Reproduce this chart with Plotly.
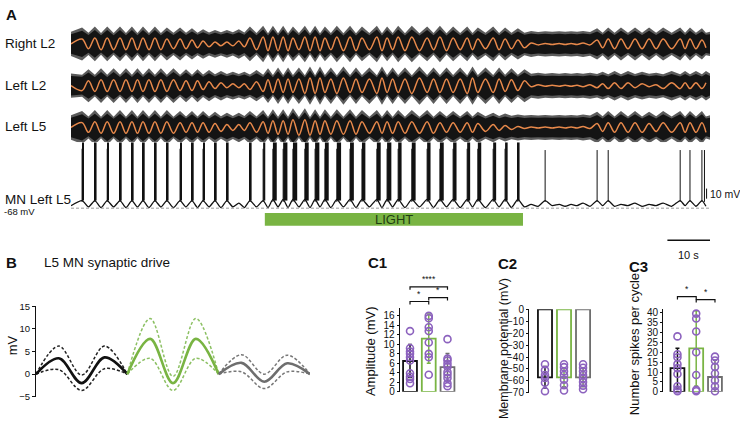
import plotly.graph_objects as go

W, H = 740, 428
FONT = "Liberation Sans, Arial, sans-serif"
ORANGE = "#E8894B"
GREEN = "#79B443"
GREY = "#6E6E6E"
PURPLE = "#8C62BE"

# ---- panel A: rhythm cycles (s) ----
cycle_t = [2.6, 5.6, 8.5, 11.5, 14.3, 16.9, 19.7, 22.5, 25.6, 28.4, 31.0, 33.8, 36.6, 39.4, 42.0, 45.1,
           47.4, 49.8, 52.1, 54.9, 57.3, 59.6, 62.4, 65.5, 68.3, 71.8, 74.2, 76.8, 80.0, 83.6, 86.6,
           89.7, 93.0, 95.5, 99.1, 101.9, 104.9,
           108.0, 111.3, 114.6, 117.4, 120.2, 123.5, 126.1, 129.1, 132.4, 135.7, 139.0, 143.0, 145.3, 148.1]

# amplitude of the filtered (orange) envelope per cycle
rl2_amp = [5, 6, 6, 6, 6, 6, 6, 5, 5, 4, 3, 2, 2, 3, 6, 7,
           7, 7, 6, 7, 7, 6, 7, 7, 6, 7, 6, 7, 7, 6, 7, 6, 6, 5, 6, 5, 4,
           1, 0.5, 0.5, 0.5, 1, 4, 5, 5, 5, 5, 5, 5, 5, 4]
ll2_amp = [5, 6, 6, 6, 6, 6, 6, 6, 5, 5, 4, 3, 2, 2, 4, 6,
           7, 7, 7, 8, 8, 7, 8, 7, 7, 8, 7, 7, 8, 7, 7, 7, 8, 7, 7, 6, 5,
           1, 0.5, 0.5, 0.5, 1, 2, 3, 3, 2, 1, 3, 3, 3, 3]
ll5_amp = [5, 6, 6, 6, 6, 6, 6, 6, 5, 5, 5, 4, 3, 3, 5, 6,
           7, 7, 8, 8, 7, 7, 7, 7, 6, 6, 6, 6, 6, 6, 5, 5, 5, 4, 3, 2, 1,
           0.5, 0.5, 0.5, 0.5, 1, 4, 5, 5, 5, 4, 5, 5, 5, 5]

# MN membrane potential (mV) at burst and between bursts, per cycle
mn_hump = [-62, -62, -62, -62, -62, -62, -62, -62, -62, -62, -62, -62, -62, -64, -62, -62,
           -61, -61, -61, -61, -61, -61, -61, -61, -61, -61, -61, -61, -61, -61, -61,
           -61, -61, -61, -61, -61, -61,
           -65, -62, -65, -65, -64, -62, -62, -65, -64, -65, -64, -62, -62, -62]
mn_trough = [-67, -67.5, -67, -67.5, -67, -67.5, -67, -67.5, -67, -67.5, -67, -67.5, -67, -67.5, -67, -67.5,
             -67, -67.5, -67, -67.5, -67, -67.5, -67, -67.5, -67, -67.5, -67, -67.5, -67, -67.5, -67,
             -67.5, -67, -67.5, -67, -67.5, -67,
             -66.5, -66, -66.5, -66, -66.5, -66, -66.5, -66, -66.5, -66, -66.5, -66, -66.5, -66.5]

# MN spikes / bursts
burst_t = [2.6, 5.6, 8.5, 11.5, 14.3, 16.9, 19.7, 22.5, 25.6, 28.4, 31.0, 33.8, 36.6, 42.0, 45.1,
           47.4, 49.8, 52.1, 54.9, 57.3, 59.6, 62.4, 65.5, 68.3, 71.8, 74.2, 76.8, 80.0, 83.6, 86.6,
           89.7, 93.0, 95.5, 99.1, 101.9, 104.9,
           111.3, 123.5, 126.1, 143.0, 145.3, 148.1, 148.7]
burst_dur = [0.4, 0.4, 0.4, 0.4, 0.4, 0.4, 0.4, 0.4, 0.4, 0.4, 0.4, 0.4, 0.4, 0.4, 0.5,
             0.9, 1.0, 1.0, 0.9, 1.0, 0.9, 1.0, 0.9, 0.8, 0.9, 1.0, 0.8, 0.9, 0.8, 0.9,
             0.8, 0.7, 0.8, 0.7, 0.6, 0.4,
             0, 0, 0, 0, 0, 0, 0]
burst_peak = [-21, -21, -21, -21, -21, -21, -21, -21, -21, -21, -21, -21, -21, -21, -21,
              -21, -21, -21, -21, -21, -21, -21, -21, -21, -21, -21, -21, -21, -21, -21,
              -21, -21, -21, -21, -21, -21,
              -22, -22, -22, -22, -22, -22, -22]
light_on, light_off = 45.5, 106.1

# ---- panel B: synaptic drive (mV) over one normalised cycle ----
phase = [0, 0.25, 0.5, 0.75, 1.0]
drive_mean = {"ctrl": [0, 3.5, -2.0, 3.7, 0], "light": [0, 7.8, -2.0, 7.8, 0], "post": [0, 2.5, -1.7, 2.4, 0]}
drive_up = {"ctrl": [0, 6.2, -0.2, 6.2, 0], "light": [0, 12.3, -0.5, 12.3, 0], "post": [0, 4.3, 0.0, 4.2, 0]}
drive_lo = {"ctrl": [0, 1.0, -3.6, 1.2, 0], "light": [0, 3.5, -3.6, 3.5, 0], "post": [0, 0.5, -3.2, 0.5, 0]}

# ---- panels C1-C3 ----
c1_mean, c1_sd = [6.5, 11.2, 5.2], [3.5, 5.2, 2.9]
c1_pts = [[12.8, 9.2, 8.5, 8.0, 7.3, 6.6, 3.9, 3.2, 2.7, 1.8],
          [16.0, 15.5, 13.6, 12.8, 10.4, 8.0, 7.3, 3.6],
          [11.1, 7.0, 6.6, 5.9, 5.3, 4.2, 3.6, 2.9, 1.8, 1.2]]
c2_mean, c2_sd = [-57, -57, -57], [9, 8, 8]
c2_pts = [[-46, -51, -55, -57.5, -61.5, -68.6],
          [-46, -48.5, -52, -55, -59, -63.6, -68],
          [-46, -49, -52, -55, -58, -61, -64, -67]]
c3_mean, c3_sd = [12, 22, 7.5], [10, 19, 8.5]
c3_pts = [[28, 19, 17.5, 14, 12, 9, 2.8, 1.2, 0.3],
          [42.8, 39.5, 37, 30.5, 20, 8.5, 1.0, 0.3],
          [17.8, 15.8, 12.6, 9.3, 5.7, 2.8, 0.3]]
bar_colors = ["#111111", GREEN, GREY]


def px(x):
    return x / W


def py(y):
    return 1 - y / H


def mids():
    out = []
    for i, t in enumerate(cycle_t):
        nxt = cycle_t[i + 1] if i + 1 < len(cycle_t) else 150.0
        out.append((t + nxt) / 2)
    return out


MIDS = mids()


def osc(amps, sign):
    xs, ys = [0.0], [0.0]
    for t, m, a in zip(cycle_t, MIDS, amps):
        xs += [t, m]
        ys += [sign * a, -sign * a]
    return xs, ys


def band(amps, sign, base, gain):
    xs, up = [0.0], [base]
    for t, m, a in zip(cycle_t, MIDS, amps):
        hi, lo = base + gain * a, base - 0.25 * gain * a
        xs += [t, m]
        up += [hi, lo] if sign > 0 else [lo, hi]
    xs += [150.0]
    up += [base]
    return xs + xs[::-1], up + [-u for u in up[::-1]]


fig = go.Figure()

nerves = [("y", rl2_amp, 1), ("y2", ll2_amp, -1), ("y3", ll5_amp, 1)]
for ax, amps, sign in nerves:
    for base, gain, col in [(12.5, 0.9, "#5c5c5c"), (10.0, 0.7, "#141414")]:
        bx, by = band(amps, sign, base, gain)
        fig.add_trace(go.Scatter(x=bx, y=by, xaxis="x", yaxis=ax, mode="lines", fill="toself",
                                 fillcolor=col, line=dict(width=0),
                                 hoverinfo="skip", showlegend=False))
    ox, oy = osc(amps, sign)
    fig.add_trace(go.Scatter(x=ox, y=oy, xaxis="x", yaxis=ax, mode="lines",
                             line=dict(color=ORANGE, width=1.5, shape="spline"), showlegend=False))

# MN membrane trace
mx, my = [0.0], [-66.0]
for t, m, hmp, tr in zip(cycle_t, MIDS, mn_hump, mn_trough):
    mx += [t, m]
    my += [hmp, tr]
fig.add_trace(go.Scatter(x=mx, y=my, xaxis="x", yaxis="y4", mode="lines",
                         line=dict(color="#111111", width=1.3, shape="spline", smoothing=0.6),
                         showlegend=False))
# burst bodies
body = [i for i, d in enumerate(burst_dur) if d > 0]
fig.add_trace(go.Bar(x=[burst_t[i] for i in body], y=[burst_peak[i] + 5 - mn_hump[0] for i in body],
                     base=[mn_hump[0]] * len(body), width=[burst_dur[i] for i in body], offset=0,
                     xaxis="x", yaxis="y4", marker=dict(color="#111111", line=dict(width=0)),
                     showlegend=False))
# first spike of each burst
sx, sy = [], []
for t, p in zip(burst_t, burst_peak):
    sx += [t, t, None]
    sy += [-63, p, None]
fig.add_trace(go.Scatter(x=sx, y=sy, xaxis="x", yaxis="y4", mode="lines",
                         line=dict(color="#111111", width=1), showlegend=False))
# 10 mV scale bar
fig.add_trace(go.Scatter(x=[149.2, 149.2], y=[-60.5, -52.5], xaxis="x", yaxis="y4", mode="lines",
                         line=dict(color="#111111", width=1), showlegend=False))

# ---- B ----
for k, (key, col, dcol) in enumerate([("ctrl", "#111111", "#222222"), ("light", GREEN, "#8CC063"),
                                      ("post", GREY, "#777777")]):
    xs = [k + p for p in phase]
    for arr in (drive_up[key], drive_lo[key]):
        fig.add_trace(go.Scatter(x=xs, y=arr, xaxis="x5", yaxis="y5", mode="lines",
                                 line=dict(color=dcol, width=1.5, dash="3px,2px", shape="spline"),
                                 showlegend=False))
    fig.add_trace(go.Scatter(x=xs, y=drive_mean[key], xaxis="x5", yaxis="y5", mode="lines",
                             line=dict(color=col, width=2.6, shape="spline"), showlegend=False))

# ---- C panels ----
for xa, ya, means, sds, pts in [("x6", "y6", c1_mean, c1_sd, c1_pts),
                                ("x7", "y7", c2_mean, c2_sd, c2_pts),
                                ("x8", "y8", c3_mean, c3_sd, c3_pts)]:
    for i in range(3):
        fig.add_trace(go.Bar(x=[i], y=[means[i]], width=0.74, xaxis=xa, yaxis=ya,
                             marker=dict(color="white", line=dict(color=bar_colors[i], width=1.8)),
                             error_y=dict(type="data", array=[sds[i]], color=bar_colors[i],
                                          thickness=1.5, width=2),
                             showlegend=False))
    for i in range(3):
        fig.add_trace(go.Scatter(x=[i] * len(pts[i]), y=pts[i], xaxis=xa, yaxis=ya, mode="markers",
                                 marker=dict(symbol="circle-open", size=7, color=PURPLE,
                                             line=dict(width=1.6, color=PURPLE)),
                                 cliponaxis=False, showlegend=False))

hidden = dict(visible=False)
ax_font = dict(family=FONT, size=10, color="#111111")
c_axis = dict(showline=True, linecolor="#111111", linewidth=1, ticks="outside", ticklen=2,
              tickcolor="#111111", showgrid=False, zeroline=False, tickfont=ax_font)
layout_axes = dict(
    xaxis=dict(domain=[px(71), px(710)], range=[0, 150], anchor="y", **hidden),
    yaxis=dict(domain=[py(60), py(18)], range=[-21, 21], anchor="x", **hidden),
    yaxis2=dict(domain=[py(103), py(61)], range=[-21, 21], anchor="x", **hidden),
    yaxis3=dict(domain=[py(146), py(104)], range=[-21, 21], anchor="x", **hidden),
    yaxis4=dict(domain=[py(216), py(140)], range=[-74.15, -15.7], anchor="x", **hidden),
    xaxis5=dict(domain=[px(36), px(310)], range=[0, 3], anchor="y5", **hidden),
    yaxis5=dict(domain=[py(402), py(309)], range=[-5, 15], anchor="x5", showline=True,
                linecolor="#111111", linewidth=1, ticks="outside", ticklen=3, tickcolor="#111111",
                tickvals=[-5, 0, 5, 10, 15], showgrid=False, zeroline=False,
                tickfont=dict(family=FONT, size=9.5, color="#111111")),
    xaxis6=dict(domain=[px(399.7), px(457.8)], range=[-0.55, 2.55], anchor="y6", **hidden),
    yaxis6=dict(domain=[py(397), py(311)], range=[0, 17.6], anchor="x6",
                tickvals=list(range(0, 17, 2)), **c_axis),
    xaxis7=dict(domain=[px(529), px(593.5)], range=[-0.84, 2.55], anchor="y7", **hidden),
    yaxis7=dict(domain=[py(398), py(312)], range=[-70, 0], anchor="x7",
                tickvals=list(range(-70, 1, 10)), **c_axis),
    xaxis8=dict(domain=[px(663), px(725.3)], range=[-0.77, 2.55], anchor="y8", **hidden),
    yaxis8=dict(domain=[py(397), py(312)], range=[0, 41.7], anchor="x8",
                tickvals=list(range(0, 41, 5)), **c_axis),
)

shapes = [
    dict(type="line", xref="x", yref="y4", x0=0, x1=150, y0=-68, y1=-68,
         line=dict(color="#999999", width=1, dash="3px,2px")),
    dict(type="rect", xref="x", yref="paper", x0=light_on, x1=light_off, y0=py(226), y1=py(213),
         fillcolor=GREEN, line=dict(width=0)),
    dict(type="line", xref="x", yref="paper", x0=140, x1=150, y0=py(241), y1=py(241),
         line=dict(color="#111111", width=1.3)),
]


def bracket(xa, a, b, ypx, label):
    shapes.append(dict(type="path", xref=xa, yref="paper",
                       path=f"M {a},{py(ypx + 3)} L {a},{py(ypx)} L {b},{py(ypx)} L {b},{py(ypx + 3)}",
                       line=dict(color="#111111", width=1.2)))
    return dict(x=(a + b) / 2, y=py(ypx - 1), xref=xa, yref="paper", text=label, showarrow=False,
                xanchor="center", yanchor="bottom", font=dict(family=FONT, size=8.5, color="#111111"))


stars = [bracket("x6", 0, 2, 289, "****"), bracket("x6", 0, 1, 304, "*"),
         bracket("x6", 1, 2, 300, "*"), bracket("x8", 0, 1, 299, "*"), bracket("x8", 1, 2, 302, "*")]


def label(x, y, text, size=13.5, bold=False, anchor="left", angle=0, color="#111111"):
    t = f"<b>{text}</b>" if bold else text
    return dict(x=px(x), y=py(y), xref="paper", yref="paper", text=t, showarrow=False,
                xanchor=anchor, yanchor="middle", textangle=angle,
                font=dict(family=FONT, size=size, color=color))


annotations = [
    label(4, 9, "A", 15, True),
    label(3, 39, "Right L2"), label(3, 82, "Left L2"), label(3, 124, "Left L5"),
    label(3, 199, "MN Left L5"), label(2, 211, "-68 mV", 9.5),
    label(394, 220, "LIGHT", 13, anchor="center", color="#1f3d12"),
    label(688, 256, "10 s", 11, anchor="center"),
    label(708, 193, "10 mV", 10.5),
    label(4, 264, "B", 15, True),
    label(42, 264, "L5 MN synaptic drive", 13.5),
    label(12, 349, "mV", 13, anchor="center", angle=-90),
    label(366, 264, "C1", 15, True), label(496, 265, "C2", 15, True), label(627, 268, "C3", 15, True),
    label(370, 355, "Amplitude (mV)", 13, anchor="center", angle=-90),
    label(504, 353, "Membrane potential (mV)", 12.5, anchor="center", angle=-90),
    label(634, 348, "Number spikes per cycle", 13, anchor="center", angle=-90),
] + stars

fig.update_layout(width=W, height=H, margin=dict(l=0, r=0, t=0, b=0),
                  paper_bgcolor="white", plot_bgcolor="white", barmode="overlay",
                  font=dict(family=FONT, color="#111111"), showlegend=False,
                  shapes=shapes, annotations=annotations, **layout_axes)

# the browser's default 8px body margin would shift the whole figure
fig.write_html("out.html", config={"displayModeBar": False},
               post_script="document.body.style.margin='0';")
